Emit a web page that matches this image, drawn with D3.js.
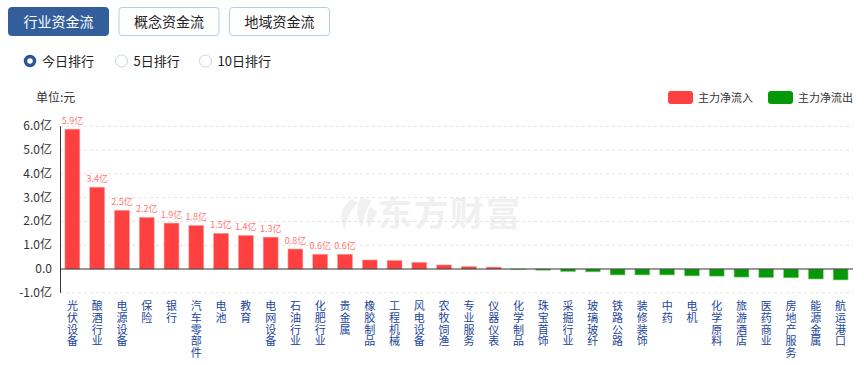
<!DOCTYPE html>
<html lang="zh">
<head>
  <meta charset="UTF-8">
  <title>行业资金流</title>
  <script src="https://d3js.org/d3.v7.min.js"></script>
  <style>
    body { margin: 0; background: #fff; }
    svg { display: block; font-family: "Noto Sans CJK SC", "Noto Sans", sans-serif; }
    .grid line { stroke: #e3e3e3; stroke-dasharray: 3,3; }
    .ylab { font-size: 12px; fill: #333; }
    .xlab { font-size: 11px; fill: #22449a; }
    .vlab { font-size: 9px; fill: #ff7676; }
  </style>
</head>
<body>
  <svg width="864" height="365"></svg>

  <script>
    const sectors = ['光伏设备', '酿酒行业', '电源设备', '保险', '银行', '汽车零部件', '电池', '教育',
      '电网设备', '石油行业', '化肥行业', '贵金属', '橡胶制品', '工程机械', '风电设备', '农牧饲渔',
      '专业服务', '仪器仪表', '化学制品', '珠宝首饰', '采掘行业', '玻璃玻纤', '铁路公路', '装修装饰',
      '中药', '电机', '化学原料', '旅游酒店', '医药商业', '房地产服务', '能源金属', '航运港口'];
    // 主力净流入 (亿元)
    const netFlow = [5.88, 3.44, 2.47, 2.17, 1.93, 1.83, 1.5, 1.41, 1.34, 0.84, 0.62, 0.62,
      0.38, 0.36, 0.28, 0.17, 0.1, 0.08, -0.02, -0.05, -0.11, -0.12, -0.25, -0.25,
      -0.25, -0.29, -0.3, -0.34, -0.36, -0.37, -0.42, -0.46];
    const yTicks = [-1, 0, 1, 2, 3, 4, 5, 6];
    const tabs = ['行业资金流', '概念资金流', '地域资金流'];
    const ranks = ['今日排行', '5日排行', '10日排行'];
    const legendItems = ['主力净流入', '主力净流出'];

    const red = '#ff4040', green = '#079807';
    const svg = d3.select('svg');

    // tabs
    const tabG = svg.selectAll('.tab').data(tabs).enter().append('g')
      .attr('transform', (d, i) => `translate(${8.5 + i * 110.5}, 7.5)`);
    tabG.append('rect')
      .attr('width', 100).attr('height', 28).attr('rx', 3)
      .attr('fill', (d, i) => i === 0 ? '#325f9c' : '#fff')
      .attr('stroke', (d, i) => i === 0 ? '#325f9c' : '#b5cde6');
    tabG.append('text')
      .attr('x', 50).attr('y', 19).attr('text-anchor', 'middle')
      .attr('font-size', 14).attr('fill', (d, i) => i === 0 ? '#fff' : '#222')
      .text(d => d);

    // radio buttons
    const radioX = [30, 121.5, 205.5];
    const radio = svg.selectAll('.radio').data(ranks).enter().append('g')
      .attr('transform', (d, i) => `translate(${radioX[i]}, 61)`);
    radio.append('circle')
      .attr('r', (d, i) => i === 0 ? 4.5 : 6)
      .attr('fill', '#fff')
      .attr('stroke', (d, i) => i === 0 ? '#2b5797' : '#c9d6e6')
      .attr('stroke-width', (d, i) => i === 0 ? 3.5 : 1);
    radio.append('text')
      .attr('x', 12).attr('y', 5).attr('font-size', 13).attr('fill', '#222')
      .text(d => d);

    // unit + legend
    svg.append('text').attr('x', 36).attr('y', 102).attr('font-size', 12).attr('fill', '#333').text('单位:元');
    const leg = svg.selectAll('.leg').data(legendItems).enter().append('g')
      .attr('transform', (d, i) => `translate(${668 + i * 100}, 91)`);
    leg.append('rect').attr('width', 25).attr('height', 13).attr('rx', 3)
      .attr('fill', (d, i) => i === 0 ? red : green);
    leg.append('text').attr('x', 30).attr('y', 11).attr('font-size', 11).attr('fill', '#333').text(d => d);

    // scales
    const x = d3.scaleBand().domain(sectors).range([60, 853]).paddingInner(0.4).paddingOuter(0.2);
    const y = d3.scaleLinear().domain([-1, 6]).range([292.8, 126.3]);

    // watermark
    const wm = svg.append('g').attr('fill', '#f0f0f0');
    wm.append('path').attr('d', 'M352,199 C342,205 338,218 345,230 C346,220 350,210 358,203 Z');
    wm.append('path').attr('d', 'M361,197 C356,206 356,218 362,228 C364,218 366,208 372,201 Z');
    wm.append('path').attr('d', 'M370,207 C366,214 366,222 369,228 C372,222 374,216 378,212 Z');
    wm.append('text').attr('x', 378).attr('y', 226).attr('font-size', 34).attr('font-weight', 'bold')
      .attr('letter-spacing', 2).text('东方财富');

    // grid
    svg.append('g').attr('class', 'grid').selectAll('line')
      .data(yTicks.filter(t => t !== 0)).enter().append('line')
      .attr('x1', 60).attr('x2', 853).attr('y1', d => y(d)).attr('y2', d => y(d));

    svg.append('g').selectAll('text').data(yTicks).enter().append('text')
      .attr('class', 'ylab').attr('x', 52).attr('y', d => y(d) + 4).attr('text-anchor', 'end')
      .text(d => d === 0 ? '0.0' : d.toFixed(1) + '亿');

    // bars
    svg.append('g').selectAll('rect').data(netFlow).enter().append('rect')
      .attr('x', (d, i) => x(sectors[i]))
      .attr('width', x.bandwidth())
      .attr('y', d => y(Math.max(0, d)))
      .attr('height', d => Math.abs(y(d) - y(0)))
      .attr('fill', d => d >= 0 ? red : green)
      .attr('stroke', d => d >= 0 ? '#ff9a9a' : '#8ed08e')
      .attr('stroke-width', 0.6);

    svg.append('g').selectAll('text').data(netFlow.filter(d => d >= 0.5)).enter().append('text')
      .attr('class', 'vlab')
      .attr('x', (d, i) => x(sectors[i]) + x.bandwidth() / 2)
      .attr('y', d => y(d) - 5)
      .attr('text-anchor', 'middle')
      .text(d => d.toFixed(1) + '亿');

    // axes lines
    svg.append('line').attr('x1', 60).attr('x2', 853).attr('y1', y(0)).attr('y2', y(0))
      .attr('stroke', '#333').attr('stroke-width', 1);
    svg.append('line').attr('x1', 60.5).attr('x2', 60.5).attr('y1', y(6)).attr('y2', y(-1))
      .attr('stroke', '#333').attr('stroke-width', 1);

    // vertical category labels, one character per line
    const xl = svg.append('g').selectAll('text').data(sectors).enter().append('text')
      .attr('class', 'xlab').attr('text-anchor', 'middle');
    xl.selectAll('tspan').data(d => Array.from(d).map(c => ({ c, key: d }))).enter().append('tspan')
      .attr('x', d => x(d.key) + x.bandwidth() / 2)
      .attr('y', (d, j) => 310 + j * 11.75)
      .text(d => d.c);
  </script>
</body>
</html>
